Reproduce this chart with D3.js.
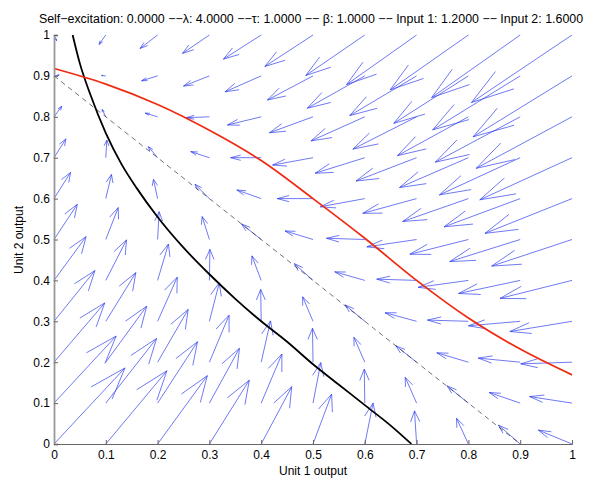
<!DOCTYPE html>
<html>
<head>
<meta charset="utf-8">
<script src="https://cdn.jsdelivr.net/npm/d3@7"></script>
<style>
  html, body { margin: 0; padding: 0; background: #fff; }
  text { font-family: "Liberation Sans", Arial, Helvetica, sans-serif; fill: #000; }
</style>
</head>
<body>
<svg id="chart" width="601" height="487"></svg>
<script>
// ---- data ----
const titleText = "Self\u2212excitation: 0.0000 \u2212\u2212\u03bb: 4.0000 \u2212\u2212\u03c4: 1.0000 \u2212\u2212 \u03b2: 1.0000 \u2212\u2212 Input 1: 1.2000 \u2212\u2212 Input 2: 1.6000";
const xLabel = "Unit 1 output";
const yLabel = "Unit 2 output";
const xTicks = [0, 0.1, 0.2, 0.3, 0.4, 0.5, 0.6, 0.7, 0.8, 0.9, 1];
const yTicks = [0, 0.1, 0.2, 0.3, 0.4, 0.5, 0.6, 0.7, 0.8, 0.9, 1];
const gridX = [0, 0.1, 0.2, 0.3, 0.4, 0.5, 0.6, 0.7, 0.8, 0.9, 1];
const gridY = [0, 0.1, 0.2, 0.3, 0.4, 0.5, 0.6, 0.7, 0.8, 0.9, 1];
// quiver components: rows follow gridY, columns follow gridX
const dU = [
  [0.137, 0.118, 0.096, 0.077, 0.059, 0.036, 0.016, -0.004, -0.023, -0.042, -0.065],
  [0.120, 0.098, 0.077, 0.058, 0.040, 0.015, -0.001, -0.022, -0.041, -0.060, -0.082],
  [0.098, 0.079, 0.059, 0.038, 0.018, -0.001, -0.021, -0.040, -0.061, -0.081, -0.099],
  [0.079, 0.058, 0.038, 0.019, -0.001, -0.020, -0.038, -0.061, -0.079, -0.100, -0.120],
  [0.062, 0.040, 0.021, 0.001, -0.018, -0.036, -0.058, -0.077, -0.097, -0.119, -0.139],
  [0.045, 0.024, 0.003, -0.014, -0.038, -0.054, -0.074, -0.096, -0.113, -0.136, -0.155],
  [0.032, 0.011, -0.008, -0.028, -0.047, -0.069, -0.086, -0.104, -0.127, -0.147, -0.168],
  [0.023, 0.002, -0.018, -0.036, -0.059, -0.078, -0.096, -0.117, -0.133, -0.156, -0.178],
  [0.015, -0.007, -0.024, -0.044, -0.065, -0.084, -0.104, -0.123, -0.137, -0.164, -0.185],
  [0.010, -0.008, -0.031, -0.050, -0.070, -0.088, -0.111, -0.129, -0.144, -0.169, -0.191],
  [0.005, -0.013, -0.034, -0.052, -0.073, -0.093, -0.114, -0.135, -0.151, -0.171, -0.194]
];
const dV = [
  [0.186, 0.179, 0.167, 0.156, 0.140, 0.122, 0.100, 0.081, 0.063, 0.046, 0.034],
  [0.164, 0.158, 0.150, 0.134, 0.120, 0.099, 0.083, 0.063, 0.042, 0.026, 0.016],
  [0.145, 0.137, 0.129, 0.115, 0.101, 0.083, 0.061, 0.040, 0.023, 0.010, -0.004],
  [0.124, 0.119, 0.108, 0.094, 0.078, 0.060, 0.040, 0.021, 0.003, -0.011, -0.025],
  [0.107, 0.099, 0.089, 0.076, 0.060, 0.041, 0.021, 0.003, -0.017, -0.032, -0.044],
  [0.086, 0.078, 0.068, 0.056, 0.038, 0.021, 0.003, -0.018, -0.036, -0.054, -0.065],
  [0.064, 0.059, 0.047, 0.035, 0.021, 0.000, -0.020, -0.036, -0.056, -0.069, -0.085],
  [0.046, 0.043, 0.027, 0.015, 0.000, -0.018, -0.038, -0.057, -0.073, -0.091, -0.103],
  [0.026, 0.018, 0.009, -0.002, -0.020, -0.039, -0.059, -0.079, -0.095, -0.111, -0.126],
  [0.002, 0.001, -0.012, -0.025, -0.039, -0.059, -0.079, -0.097, -0.116, -0.132, -0.149],
  [-0.014, -0.023, -0.033, -0.045, -0.059, -0.077, -0.099, -0.121, -0.134, -0.153, -0.165]
];
// red curve
const redX = [0, 0.1, 0.2, 0.3, 0.4, 0.5, 0.6, 0.7, 0.8, 0.9, 1];
const redY = [0.918, 0.880, 0.830, 0.767, 0.693, 0.600, 0.503, 0.400, 0.308, 0.232, 0.169];
// black curve
const blackX = [0.036, 0.05, 0.07, 0.10, 0.13, 0.16, 0.20, 0.25, 0.30, 0.35, 0.40, 0.45, 0.50, 0.55, 0.60, 0.65, 0.69];
const blackY = [1.0, 0.93, 0.855, 0.76, 0.685, 0.625, 0.555, 0.48, 0.415, 0.355, 0.30, 0.25, 0.195, 0.145, 0.095, 0.045, 0];
// dashed line
const dashX = [0, 0.9];
const dashY = [0.9, 0];

// ---- drawing ----
const svg = d3.select("#chart");
const x = d3.scaleLinear().domain([0, 1]).range([54, 572]);
const y = d3.scaleLinear().domain([0, 1]).range([444, 35]);

// quiver
const alpha = 0.33, beta = 0.33;
const arrows = [];
gridY.forEach((gy, j) => gridX.forEach((gx, i) => {
  arrows.push({x0: gx, y0: gy, u: dU[j][i], v: dV[j][i]});
}));
svg.append("g").selectAll("path").data(arrows).join("path")
  .attr("d", a => {
    const tx = a.x0 + a.u, ty = a.y0 + a.v;
    const h1x = tx - alpha * (a.u + beta * a.v), h1y = ty - alpha * (a.v - beta * a.u);
    const h2x = tx - alpha * (a.u - beta * a.v), h2y = ty - alpha * (a.v + beta * a.u);
    return `M${x(a.x0)},${y(a.y0)}L${x(tx)},${y(ty)}M${x(h1x)},${y(h1y)}L${x(tx)},${y(ty)}L${x(h2x)},${y(h2y)}`;
  })
  .attr("fill", "none")
  .attr("stroke", "#3040ee")
  .attr("stroke-width", 0.7)
  .attr("stroke-linejoin", "miter");

const smooth = d3.line().x(d => x(d[0])).y(d => y(d[1])).curve(d3.curveMonotoneX);

svg.append("path")
  .attr("d", d3.line().x(d => x(d[0])).y(d => y(d[1]))(dashX.map((v, i) => [v, dashY[i]])))
  .attr("fill", "none").attr("stroke", "#333").attr("stroke-width", 0.7)
  .attr("stroke-dasharray", "5,4");

svg.append("path")
  .attr("d", smooth(blackX.map((v, i) => [v, blackY[i]])))
  .attr("fill", "none").attr("stroke", "#000").attr("stroke-width", 1.8);

svg.append("path")
  .attr("d", smooth(redX.map((v, i) => [v, redY[i]])))
  .attr("fill", "none").attr("stroke", "#ee2a10").attr("stroke-width", 1.7);

// axes
const fmt = d => d === 0 ? "0" : d === 1 ? "1" : d3.format(".1f")(d);
const xAxis = d3.axisBottom(x).tickValues(xTicks).tickSize(-4).tickPadding(8).tickFormat(fmt);
const yAxis = d3.axisLeft(y).tickValues(yTicks).tickSize(-4).tickPadding(8).tickFormat(fmt);

const gx = svg.append("g").attr("transform", "translate(0,444)").call(xAxis);
const gy = svg.append("g").attr("transform", "translate(54,0)").call(yAxis);
[gx, gy].forEach(g => {
  g.select(".domain").attr("stroke", "#666").attr("stroke-width", 1);
  g.selectAll(".tick line").attr("stroke", "#666");
  g.selectAll(".tick text").style("font-family", "'Liberation Sans', Arial, sans-serif")
    .style("font-size", "12px").attr("fill", "#000");
});
gy.select(".domain").attr("stroke", "#999").attr("stroke-width", 1.8);
gx.selectAll(".tick text").attr("dy", "0.71em").attr("y", 6);
gy.selectAll(".tick text").attr("x", -4);

// title and labels
const t = svg.append("text").attr("x", 311).attr("y", 23)
  .attr("text-anchor", "middle").style("font-size", "12px")
  .text(titleText);
const w = t.node().getComputedTextLength();
t.style("font-size", Math.min(13.5, 12 * 545 / w).toFixed(2) + "px");

svg.append("text").attr("x", 313).attr("y", 475).attr("text-anchor", "middle")
  .style("font-size", "12px").text(xLabel);
svg.append("text").attr("transform", "translate(23,240) rotate(-90)").attr("text-anchor", "middle")
  .style("font-size", "12px").text(yLabel);
</script>
</body>
</html>
